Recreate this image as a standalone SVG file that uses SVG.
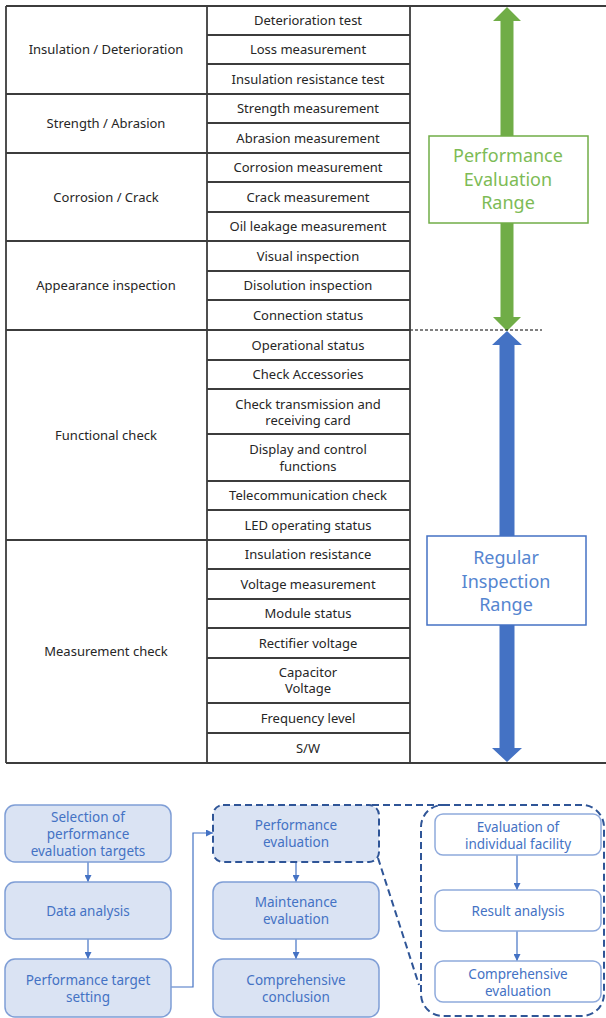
<svg xmlns="http://www.w3.org/2000/svg" width="606" height="1018" viewBox="0 0 606 1018">
  <defs>
    <style>
      .grid { stroke: #3c3c3c; stroke-width: 1.8; fill: none; }
      .cell { font-family: "Noto Sans", "Open Sans", sans-serif; font-size: 13px; fill: #262626; text-anchor: middle; }
      .range { font-family: "Noto Sans", "Open Sans", sans-serif; font-size: 18px; text-anchor: middle; }
      .step { fill: #DAE3F3; stroke: #7F9ED6; stroke-width: 1.5; }
      .sub { fill: #FFFFFF; stroke: #8FAADC; stroke-width: 1.5; }
      .dash { fill: none; stroke: #2F5597; stroke-width: 2; stroke-dasharray: 7 4; }
      .lbl { font-family: "Noto Sans", "Open Sans", sans-serif; font-size: 13.5px; fill: #4472C4; text-anchor: middle; }
      .link { fill: none; stroke: #4472C4; stroke-width: 1.2; }
    </style>
    <marker id="tip" viewBox="0 0 10 10" refX="10" refY="5" markerWidth="7" markerHeight="7" markerUnits="userSpaceOnUse" orient="auto">
      <path d="M0,0 L10,5 L0,10 Z" fill="#4472C4"/>
    </marker>
  </defs>
  <rect width="606" height="1018" fill="#FFFFFF"/>

  <!-- range arrows (behind their label boxes) -->
  <g id="range-arrows">
    <polygon fill="#70AD47" points="507,7 521,21 513.5,21 513.5,317 521,317 507,331 493,317 500.5,317 500.5,21 493,21"/>
    <polygon fill="#4472C4" points="507,331 522,345 514.5,345 514.5,748 522,748 507,762 492,748 499.5,748 499.5,345 492,345"/>
    <line x1="410" y1="330" x2="542" y2="330" stroke="#000" stroke-width="1" stroke-dasharray="3 2"/>
  </g>

  <!-- inspection table grid -->
  <g id="table">
    <line class="grid" x1="6" y1="6" x2="606" y2="6"/>
    <line class="grid" x1="6" y1="763" x2="606" y2="763"/>
    <line class="grid" x1="6" y1="6" x2="6" y2="763"/>
    <line class="grid" x1="207" y1="6" x2="207" y2="763"/>
    <line class="grid" x1="410" y1="6" x2="410" y2="763"/>
    <!-- group separators (full width) -->
    <path class="grid" d="M6,94H410 M6,153H410 M6,241H410 M6,330H410 M6,540H410"/>
    <!-- item separators (right column) -->
    <path class="grid" d="M207,35H410 M207,64H410 M207,123H410 M207,182H410 M207,212H410 M207,271H410 M207,300H410 M207,360H410 M207,389H410 M207,434H410 M207,481H410 M207,510H410 M207,569H410 M207,599H410 M207,628H410 M207,658H410 M207,703H410 M207,733H410"/>
  </g>

  <g id="group-labels">
    <text class="cell" x="106" y="54">Insulation / Deterioration</text>
    <text class="cell" x="106" y="128">Strength / Abrasion</text>
    <text class="cell" x="106" y="202">Corrosion / Crack</text>
    <text class="cell" x="106" y="290">Appearance inspection</text>
    <text class="cell" x="106" y="440">Functional check</text>
    <text class="cell" x="106" y="656">Measurement check</text>
  </g>

  <g id="items">
    <text class="cell" x="308" y="25">Deterioration test</text>
    <text class="cell" x="308" y="54">Loss measurement</text>
    <text class="cell" x="308" y="83.5">Insulation resistance test</text>
    <text class="cell" x="308" y="113">Strength measurement</text>
    <text class="cell" x="308" y="142.5">Abrasion measurement</text>
    <text class="cell" x="308" y="172">Corrosion measurement</text>
    <text class="cell" x="308" y="201.5">Crack measurement</text>
    <text class="cell" x="308" y="231">Oil leakage measurement</text>
    <text class="cell" x="308" y="260.5">Visual inspection</text>
    <text class="cell" x="308" y="290">Disolution inspection</text>
    <text class="cell" x="308" y="319.5">Connection status</text>
    <text class="cell" x="308" y="349.5">Operational status</text>
    <text class="cell" x="308" y="379">Check Accessories</text>
    <text class="cell" x="308" y="409">Check transmission and</text>
    <text class="cell" x="308" y="425">receiving card</text>
    <text class="cell" x="308" y="454">Display and control</text>
    <text class="cell" x="308" y="470.5">functions</text>
    <text class="cell" x="308" y="500">Telecommunication check</text>
    <text class="cell" x="308" y="529.5">LED operating status</text>
    <text class="cell" x="308" y="559">Insulation resistance</text>
    <text class="cell" x="308" y="588.5">Voltage measurement</text>
    <text class="cell" x="308" y="618">Module status</text>
    <text class="cell" x="308" y="647.5">Rectifier voltage</text>
    <text class="cell" x="308" y="677">Capacitor</text>
    <text class="cell" x="308" y="693">Voltage</text>
    <text class="cell" x="308" y="722.5">Frequency level</text>
    <text class="cell" x="308" y="752.5">S/W</text>
  </g>

  <g id="performance-range">
    <rect x="429" y="136" width="159" height="87" fill="#FFFFFF" stroke="#70AD47" stroke-width="1.5"/>
    <text class="range" fill="#7DBB55" x="508" y="162">Performance</text>
    <text class="range" fill="#7DBB55" x="508" y="186">Evaluation</text>
    <text class="range" fill="#7DBB55" x="508" y="209">Range</text>
  </g>

  <g id="inspection-range">
    <rect x="427" y="536" width="159" height="89" fill="#FFFFFF" stroke="#4472C4" stroke-width="1.5"/>
    <text class="range" fill="#5585D0" x="506" y="564">Regular</text>
    <text class="range" fill="#5585D0" x="506" y="588">Inspection</text>
    <text class="range" fill="#5585D0" x="506" y="611">Range</text>
  </g>

  <!-- process flow -->
  <g id="connectors">
    <line class="link" x1="88" y1="862" x2="88" y2="882" marker-end="url(#tip)"/>
    <line class="link" x1="88" y1="939" x2="88" y2="959" marker-end="url(#tip)"/>
    <polyline class="link" points="171,987 193,987 193,833 213,833" marker-end="url(#tip)"/>
    <line class="link" x1="296" y1="862" x2="296" y2="882" marker-end="url(#tip)"/>
    <line class="link" x1="296" y1="939" x2="296" y2="959" marker-end="url(#tip)"/>
    <line class="link" x1="517" y1="855" x2="517" y2="890" marker-end="url(#tip)"/>
    <line class="link" x1="517" y1="931" x2="517" y2="961" marker-end="url(#tip)"/>
    <!-- zoom lines from the performance evaluation step to its detail panel -->
    <line class="dash" x1="372" y1="805" x2="442" y2="805"/>
    <line class="dash" x1="378" y1="858" x2="419" y2="985"/>
  </g>

  <g id="detail-panel">
    <rect class="dash" x="421" y="805" width="183" height="211" rx="22"/>
  </g>

  <g id="step-selection">
    <rect class="step" x="5" y="805" width="166" height="57" rx="10"/>
    <text class="lbl" x="88" y="822">Selection of</text>
    <text class="lbl" x="88" y="839">performance</text>
    <text class="lbl" x="88" y="856">evaluation targets</text>
  </g>
  <g id="step-data">
    <rect class="step" x="5" y="882" width="166" height="57" rx="10"/>
    <text class="lbl" x="88" y="915.5">Data analysis</text>
  </g>
  <g id="step-target">
    <rect class="step" x="5" y="959" width="166" height="58" rx="10"/>
    <text class="lbl" x="88" y="985">Performance target</text>
    <text class="lbl" x="88" y="1002">setting</text>
  </g>
  <g id="step-performance">
    <rect x="213" y="805" width="166" height="57" rx="10" fill="#DAE3F3" stroke="#2F5597" stroke-width="2" stroke-dasharray="7 4"/>
    <text class="lbl" x="296" y="830">Performance</text>
    <text class="lbl" x="296" y="847">evaluation</text>
  </g>
  <g id="step-maintenance">
    <rect class="step" x="213" y="882" width="166" height="57" rx="10"/>
    <text class="lbl" x="296" y="907">Maintenance</text>
    <text class="lbl" x="296" y="924">evaluation</text>
  </g>
  <g id="step-conclusion">
    <rect class="step" x="213" y="959" width="166" height="58" rx="10"/>
    <text class="lbl" x="296" y="985">Comprehensive</text>
    <text class="lbl" x="296" y="1002">conclusion</text>
  </g>
  <g id="sub-individual">
    <rect class="sub" x="435" y="814" width="166" height="41" rx="8"/>
    <text class="lbl" x="518" y="832">Evaluation of</text>
    <text class="lbl" x="518" y="849">individual facility</text>
  </g>
  <g id="sub-result">
    <rect class="sub" x="435" y="890" width="166" height="41" rx="8"/>
    <text class="lbl" x="518" y="915.5">Result analysis</text>
  </g>
  <g id="sub-comprehensive">
    <rect class="sub" x="435" y="961" width="166" height="41" rx="8"/>
    <text class="lbl" x="518" y="979">Comprehensive</text>
    <text class="lbl" x="518" y="996">evaluation</text>
  </g>
</svg>
